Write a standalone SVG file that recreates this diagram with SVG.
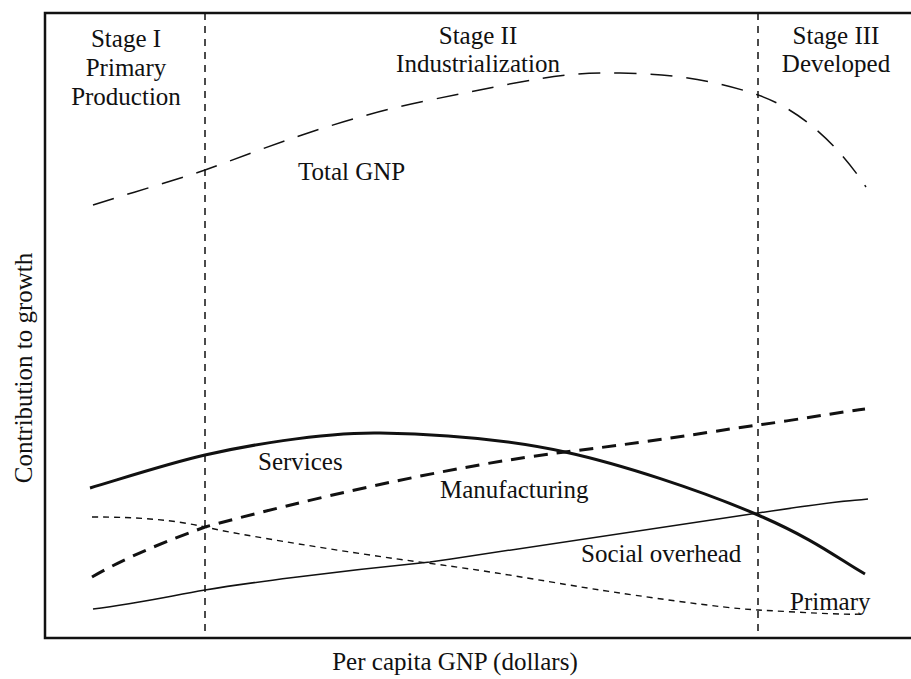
<svg xmlns="http://www.w3.org/2000/svg" width="911" height="679" viewBox="0 0 911 679">
<style>
text{font-family:"Liberation Serif","Times New Roman",serif;font-size:25px;fill:#111}
.c{text-anchor:middle}
.frame{fill:none;stroke:#111;stroke-width:2.5}
.div{fill:none;stroke:#111;stroke-width:1.5;stroke-dasharray:7 6}
.gnp{fill:none;stroke:#111;stroke-width:1.5;stroke-dasharray:22 14}
.svc{fill:none;stroke:#111;stroke-width:3}
.mfg{fill:none;stroke:#111;stroke-width:3;stroke-dasharray:14 9}
.pri{fill:none;stroke:#111;stroke-width:1.4;stroke-dasharray:6 5}
.soc{fill:none;stroke:#111;stroke-width:1.5}
</style>
<rect width="911" height="679" fill="#fff"/>
<g id="frame">
<path class="frame" d="M911,13 H45 V638 H911"/>
</g>
<g id="dividers">
<line class="div" x1="205" y1="13" x2="205" y2="638"/>
<line class="div" x1="758" y1="13" x2="758" y2="638"/>
</g>
<g id="stage1">
<text class="c" x="126" y="47">Stage I</text>
<text class="c" x="126" y="76">Primary</text>
<text class="c" x="126" y="105">Production</text>
</g>
<g id="stage2">
<text class="c" x="478" y="44">Stage II</text>
<text class="c" x="478" y="72">Industrialization</text>
</g>
<g id="stage3">
<text class="c" x="836" y="44">Stage III</text>
<text class="c" x="836" y="72">Developed</text>
</g>
<g id="connectors">
<path id="total-gnp" class="gnp" d="M93,205 C130,193 170,182 205,170 S330,120 430,100 S560,72 620,73 S720,82 758,95 S835,140 866,187"/>
<path id="services" class="svc" d="M90,488 C130,476 170,463 205,455 S320,432 380,433 S510,440 565,452 S700,490 758,515 S840,560 865,574"/>
<path id="manufacturing" class="mfg" d="M92,577 C130,555 170,540 205,527 C300,501 450,466 565,452 S720,430 758,425 S840,412 865,409"/>
<path id="primary" class="pri" d="M92,517 C140,517 175,520 205,527 S350,553 427,563 S560,584 600,590 S720,608 758,610 S840,615 865,614"/>
<path id="social" class="soc" d="M93,609 C140,603 170,596 205,590 S330,572 430,562 C540,546 650,529 758,513 S845,502 868,499"/>
</g>
<g id="labels">
<text x="298" y="180">Total GNP</text>
<text x="258" y="470">Services</text>
<text x="440" y="498">Manufacturing</text>
<text x="581" y="562">Social overhead</text>
<text x="790" y="610">Primary</text>
</g>
<g id="axes">
<text class="c" x="455" y="670">Per capita GNP (dollars)</text>
<text class="c" transform="translate(32,368) rotate(-90)">Contribution to growth</text>
</g>
</svg>
